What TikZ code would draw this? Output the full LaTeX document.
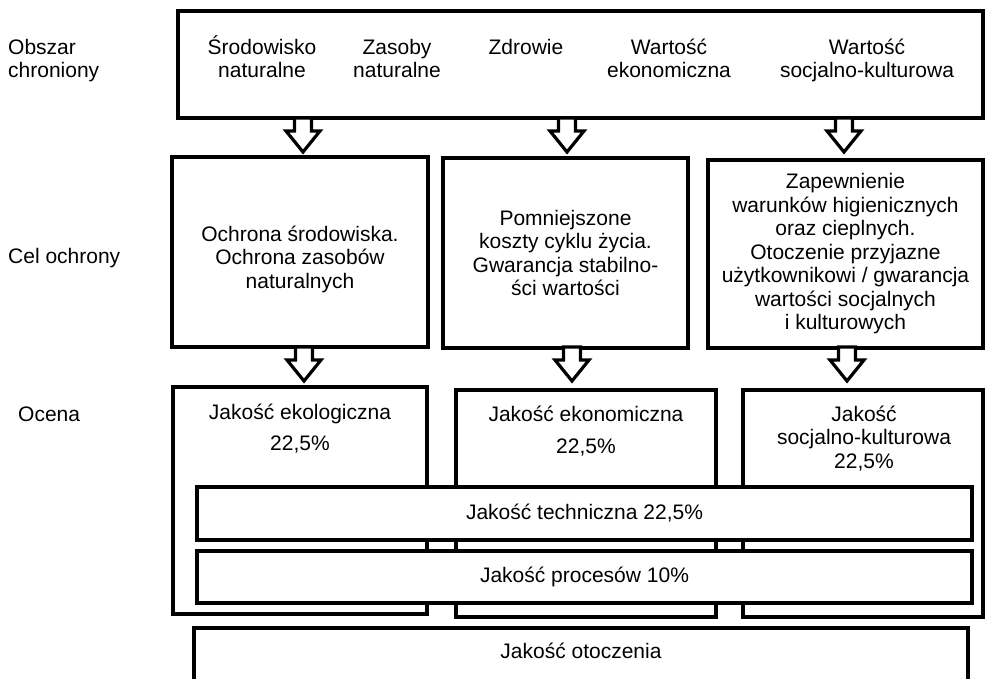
\documentclass[tikz,border=0pt]{standalone}
\usepackage{fontspec}
\setmainfont{Liberation Sans}
\begin{document}
\begin{tikzpicture}[x=1pt,y=-1pt,
  box/.style={draw, line width=3.2pt, fill=white, inner sep=0pt, line join=miter},
  txt/.style={inner sep=0pt, align=center, font=\fontsize{21}{23.5}\selectfont},
  arr/.style={draw, line width=3.2pt, fill=white, line join=miter}]
\newcommand\blkarr[1]{\path[arr] (#1) ++(-8.5,0) -- ++(0,13) -- ++(-8.5,0) -- ++(17,21) -- ++(17,-21) -- ++(-8.5,0) -- ++(0,-13) -- cycle;}
\path[use as bounding box] (0,0) rectangle (985,679);
\clip (0,0) rectangle (985,679);

% left labels
\node[txt, align=left, anchor=base west] (l1) at (8,78) {Obszar\\chroniony};
\node[txt, anchor=base west] (l2) at (8,263) {Cel ochrony};
\node[txt, anchor=base west] (l3) at (18,421) {Ocena};

% top box
\node[box, minimum width=805, minimum height=107] (top) at (580.5,64.5) {};
\node[txt, anchor=base] (t1) at (262,78) {Środowisko\\naturalne};
\node[txt, anchor=base] (t2) at (397,78) {Zasoby\\naturalne};
\node[txt, anchor=base] (t3) at (526,55) {Zdrowie};
\node[txt, anchor=base] (t4) at (669,78) {Wartość\\ekonomiczna};
\node[txt, anchor=base] (t5) at (867,78) {Wartość\\socjalno-kulturowa};

% row 2
\node[box, minimum width=256, minimum height=190] (c1) at (300,252) {};
\node[txt] (c1t) at (300,259) {Ochrona środowiska.\\Ochrona zasobów\\naturalnych};
\node[box, txt, minimum width=245, minimum height=190] (c2) at (565.5,253)
  {Pomniejszone\\koszty cyklu życia.\\Gwarancja stabilno-\\ści wartości};
\node[box, txt, minimum width=275, minimum height=188] (c3) at (845.5,254)
  {Zapewnienie\\warunków higienicznych\\oraz cieplnych.\\Otoczenie przyjazne\\użytkownikowi / gwarancja\\wartości socjalnych\\i kulturowych};

% arrows top -> row 2
\coordinate (a1) at (303,118);
\coordinate (a2) at (567,118);
\coordinate (a3) at (844,118);
\blkarr{a1}\blkarr{a2}\blkarr{a3}

% arrows row 2 -> row 3
\coordinate (b1) at (304,347);
\coordinate (b2) at (572,347);
\coordinate (b3) at (847,347);

% row 3
\node[box, minimum width=254, minimum height=227] (e1) at (300,500.5) {};
\node[box, minimum width=260, minimum height=227] (e2) at (586,503.5) {};
\node[box, minimum width=240, minimum height=227] (e3) at (863,503.5) {};
\blkarr{b1}\blkarr{b2}\blkarr{b3}
\node[txt, anchor=base] (e1t) at (300,450) {Jakość ekologiczna\\[7.5pt]22,5\%};
\node[txt, anchor=base] (e2t) at (586,453) {Jakość ekonomiczna\\[8.5pt]22,5\%};
\node[txt, anchor=base] (e3t) at (864,468) {Jakość\\socjalno-kulturowa\\22,5\%};

% technical and process
\node[box, txt, minimum width=775, minimum height=53] (tech) at (584.5,513.5) {Jakość techniczna 22,5\%};
\node[box, txt, minimum width=775, minimum height=52] (proc) at (584.5,577) {Jakość procesów 10\%};

% environment
\node[box, minimum width=774, minimum height=80] (env) at (581,668) {};
\node[txt, anchor=base] (envt) at (581,658) {Jakość otoczenia};
\end{tikzpicture}
\end{document}
